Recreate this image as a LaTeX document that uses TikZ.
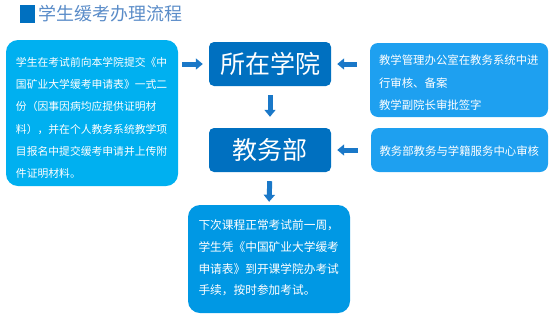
\documentclass[tikz,border=0pt]{standalone}
\usepackage{fontspec}
\setmainfont{Noto Sans CJK SC}
\usetikzlibrary{arrows.meta}
\definecolor{cyanbox}{HTML}{00B0F0}
\definecolor{darkbox}{HTML}{0070C0}
\definecolor{rightbox}{HTML}{1EA0F0}
\definecolor{bottombox}{HTML}{0098E4}
\definecolor{arrowcol}{HTML}{1A78C8}
\definecolor{titlecol}{HTML}{5A8CC8}
\tikzset{
  boxshape/.style={rounded corners=#1, inner sep=0pt},
  boxtext/.style={text=white, inner sep=0pt, align=left, anchor=center},
  bigbox/.style={fill=darkbox, rounded corners=5pt, text=white, inner sep=0pt,
    minimum width=122pt, minimum height=44pt, font=\fontsize{25}{28}\selectfont},
  flowarrow/.style={draw=arrowcol, line width=5pt, -{Triangle[width=11pt,length=7pt]}},
}
\begin{document}
\begin{tikzpicture}[x=1pt,y=-1pt]
\useasboundingbox (0,0) rectangle (553,322);
% title
\fill[darkbox] (20,5) rectangle (35,23);
\node[anchor=west, inner sep=0pt, text=titlecol, font=\fontsize{18}{20}\selectfont] (title) at (38,14) {学生缓考办理流程};
% left box
\node[boxshape=12pt, fill=cyanbox, minimum width=172pt, minimum height=146pt] (apply) at (92,113) {};
\node[boxtext, text width=152pt, font=\fontsize{10.8}{22.3}\selectfont] (applytext) at (92,118)
  {学生在考试前向本学院提交《中\\国矿业大学缓考申请表》一式二\\份（因事因病均应提供证明材\\料），并在个人教务系统教学项\\目报名中提交缓考申请并上传附\\件证明材料。};
% middle boxes
\node[bigbox] (college) at (270,64) {所在学院};
\node[bigbox] (office) at (270,150) {教务部};
% right boxes
\node[boxshape=8pt, fill=rightbox, minimum width=178pt, minimum height=74pt] (review1) at (459,80) {};
\node[boxtext, text width=160pt, font=\fontsize{11.4}{22.5}\selectfont] (review1text) at (459,83)
  {教学管理办公室在教务系统中进\\行审核、备案\\教学副院长审批签字};
\node[boxshape=8pt, fill=rightbox, minimum width=177pt, minimum height=44pt] (review2) at (459.5,150) {};
\node[boxtext, text width=160pt, font=\fontsize{11.4}{22.5}\selectfont] (review2text) at (459.5,151)
  {教务部教务与学籍服务中心审核};
% bottom box
\node[boxshape=12pt, fill=bottombox, minimum width=162pt, minimum height=108pt] (exam) at (269,259) {};
\node[boxtext, text width=141pt, font=\fontsize{11.7}{21.7}\selectfont] (examtext) at (269,258)
  {下次课程正常考试前一周，\\学生凭《中国矿业大学缓考\\申请表》到开课学院办考试\\手续，按时参加考试。};
% arrows
\draw[flowarrow, shorten <=4pt, shorten >=6pt] (apply.east |- college.west) -- (college.west);
\draw[flowarrow, shorten <=9pt, shorten >=11pt] (college.south) -- (office.north);
\draw[flowarrow, shorten <=9pt, shorten >=3pt] (office.south) -- (exam.north);
\draw[flowarrow, shorten <=13pt, shorten >=6pt] (review1.west |- college.east) -- (college.east);
\draw[flowarrow, shorten <=13pt, shorten >=6pt] (review2.west) -- (office.east);
\end{tikzpicture}
\end{document}
